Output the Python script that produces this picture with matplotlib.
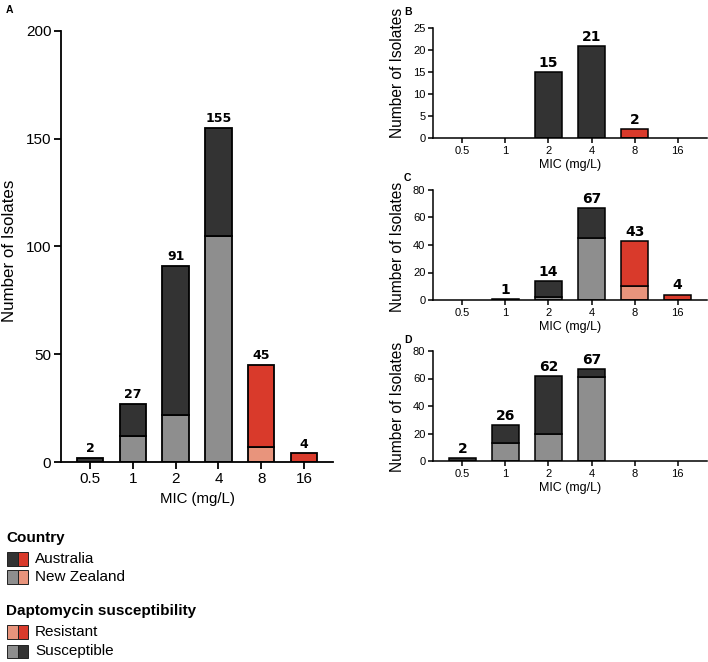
import matplotlib
matplotlib.use("Agg")
import matplotlib.pyplot as plt
from matplotlib.patches import Rectangle
import numpy as np

mic = ["0.5", "1", "2", "4", "8", "16"]

# panel A (all isolates)
a_au_s = [2, 15, 69, 50, 0, 0]
a_nz_s = [0, 12, 22, 105, 0, 0]
a_au_r = [0, 0, 0, 0, 38, 4]
a_nz_r = [0, 0, 0, 0, 7, 0]
a_tot = [2, 27, 91, 155, 45, 4]

# panel B
b_au_s = [0, 0, 15, 21, 0, 0]
b_nz_s = [0, 0, 0, 0, 0, 0]
b_au_r = [0, 0, 0, 0, 2, 0]
b_nz_r = [0, 0, 0, 0, 0, 0]
b_tot = [0, 0, 15, 21, 2, 0]

# panel C
c_au_s = [0, 1, 12, 22, 0, 0]
c_nz_s = [0, 0, 2, 45, 0, 0]
c_au_r = [0, 0, 0, 0, 33, 4]
c_nz_r = [0, 0, 0, 0, 10, 0]
c_tot = [0, 1, 14, 67, 43, 4]

# panel D
d_au_s = [2, 13, 42, 6, 0, 0]
d_nz_s = [0, 13, 20, 61, 0, 0]
d_au_r = [0, 0, 0, 0, 0, 0]
d_nz_r = [0, 0, 0, 0, 0, 0]
d_tot = [2, 26, 62, 67, 0, 0]

DARK = "#333333"
GREY = "#8e8e8e"
RED = "#d93a2b"
PINK = "#e8947c"

TICK_FONT = "Liberation Sans"
BOLD_FONT = "DejaVu Sans"

W, H = 708, 662
fig = plt.figure(figsize=(W / 100, H / 100), dpi=100)


def px_axes(l, t, r, b):
    return fig.add_axes([l / W, 1 - b / H, (r - l) / W, (b - t) / H])


def draw(ax, au_s, nz_s, au_r, nz_r, tot, ymax, step, big):
    x = np.arange(len(mic))
    lw = 1.3 if big else 1.1
    for i in x:
        bottom = 0
        # NZ first (bottom), then AU on top
        for vals, col in ((nz_s, GREY), (nz_r, PINK), (au_s, DARK), (au_r, RED)):
            v = vals[i]
            if v > 0:
                ax.bar(i, v, bottom=bottom, width=0.62, color=col,
                       edgecolor="black", linewidth=lw, zorder=3)
                bottom += v
        if tot[i] > 0:
            ax.annotate(str(tot[i]), (i, tot[i]), xytext=(0, 2 if big else 1.5),
                        textcoords="offset points", ha="center", va="bottom",
                        fontsize=9 if big else 10, fontweight="bold",
                        family=BOLD_FONT)
    ax.set_xlim(-0.68, 5.68)
    ax.set_ylim(0, ymax)
    ax.set_yticks(np.arange(0, ymax + 1, step))
    ax.set_xticks(x)
    ax.set_xticklabels(mic)
    for s in ("top", "right"):
        ax.spines[s].set_visible(False)
    for s in ("left", "bottom"):
        ax.spines[s].set_linewidth(lw)
        ax.spines[s].set_zorder(4)
    fs = 11 if big else 8
    ax.tick_params(axis="both", direction="out", length=5 if big else 3.5,
                   width=lw, labelsize=fs, pad=2)
    for lab in ax.get_xticklabels() + ax.get_yticklabels():
        lab.set_family(TICK_FONT)
    ax.set_xlabel("MIC (mg/L)", fontsize=10.8 if big else 9, family=TICK_FONT)
    ax.set_ylabel("Number of Isolates", fontsize=12.2 if big else 11.2,
                  family=TICK_FONT)
    ax.set_facecolor("none")


axA = px_axes(61, 31, 333, 462)
draw(axA, a_au_s, a_nz_s, a_au_r, a_nz_r, a_tot, 200, 50, True)
axA.xaxis.set_label_coords(0.5, -0.069)
axA.yaxis.set_label_coords(-0.163, 0.49)

axB = px_axes(433, 28, 707, 138)
draw(axB, b_au_s, b_nz_s, b_au_r, b_nz_r, b_tot, 25, 5, False)
axC = px_axes(433, 190, 707, 300)
draw(axC, c_au_s, c_nz_s, c_au_r, c_nz_r, c_tot, 80, 20, False)
axD = px_axes(433, 351, 707, 461)
draw(axD, d_au_s, d_nz_s, d_au_r, d_nz_r, d_tot, 80, 20, False)
for ax, yc in ((axB, 0.59), (axC, 0.48), (axD, 0.49)):
    ax.xaxis.set_label_coords(0.5, -0.19)
    ax.yaxis.set_label_coords(-0.102, yc)

for lab, (x, y) in zip("ABCD", [(6, 10), (404, 12), (404, 178), (404, 340)]):
    fig.text(x / W, 1 - y / H, lab, fontsize=7.5, fontweight="bold",
             family=TICK_FONT, ha="left", va="center")


# legend
def legend_row(y, left_col, right_col, text):
    for x0, col in ((7, left_col), (17.5, right_col)):
        fig.patches.append(Rectangle((x0 / W, 1 - (y + 6.7) / H), 10.5 / W,
                                     13.4 / H, facecolor=col,
                                     edgecolor="#222222", linewidth=0.7,
                                     transform=fig.transFigure))
    fig.text(35 / W, 1 - y / H, text, fontsize=11, family=TICK_FONT,
             ha="left", va="center")


fig.text(6 / W, 1 - 538 / H, "Country", fontsize=11, fontweight="bold",
         family=TICK_FONT, ha="left", va="center")
legend_row(559, DARK, RED, "Australia")
legend_row(577, GREY, PINK, "New Zealand")
fig.text(6 / W, 1 - 611 / H, "Daptomycin susceptibility", fontsize=11,
         fontweight="bold", family=TICK_FONT, ha="left", va="center")
legend_row(632, PINK, RED, "Resistant")
legend_row(651.5, GREY, DARK, "Susceptible")

fig.savefig("out.png", dpi=100)
